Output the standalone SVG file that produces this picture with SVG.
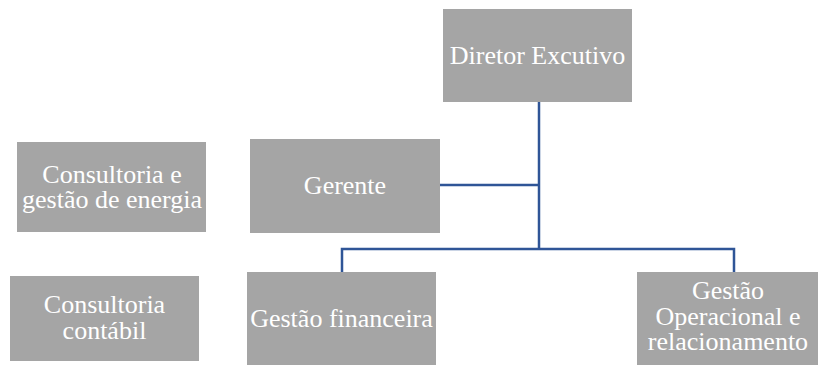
<svg xmlns="http://www.w3.org/2000/svg" width="818" height="365" viewBox="0 0 818 365">
<style>
.box{fill:#A5A5A5}
.t{font-family:"Liberation Serif","Times New Roman",serif;font-size:26px;fill:#FFFFFF;text-anchor:middle}
.c{fill:none;stroke:#2F5597;stroke-width:2.5}
</style>
<rect width="818" height="365" fill="#FFFFFF"/>
<g id="connectors">
<path class="c" d="M539,102 V249"/>
<path class="c" d="M440,185 H539"/>
<path class="c" d="M342,272 V249 H734 V272"/>
</g>
<g id="diretor">
<rect class="box" x="443" y="9" width="189" height="93"/>
<text class="t" x="537.5" y="64">Diretor Excutivo</text>
</g>
<g id="consultoria-energia">
<rect class="box" x="17" y="142" width="189" height="90"/>
<text class="t"><tspan x="112" y="183">Consultoria e</tspan><tspan x="112" y="208">gestão de energia</tspan></text>
</g>
<g id="gerente">
<rect class="box" x="250" y="139" width="190" height="94"/>
<text class="t" x="345" y="194">Gerente</text>
</g>
<g id="consultoria-contabil">
<rect class="box" x="10" y="276" width="189" height="85"/>
<text class="t"><tspan x="104.5" y="313">Consultoria</tspan><tspan x="104.5" y="339">contábil</tspan></text>
</g>
<g id="gestao-financeira">
<rect class="box" x="247" y="272" width="189" height="93"/>
<text class="t" x="341.5" y="327">Gestão financeira</text>
</g>
<g id="gestao-operacional">
<rect class="box" x="637" y="272" width="181" height="93"/>
<text class="t"><tspan x="728" y="299">Gestão</tspan><tspan x="728" y="325">Operacional e</tspan><tspan x="728" y="350">relacionamento</tspan></text>
</g>
</svg>
